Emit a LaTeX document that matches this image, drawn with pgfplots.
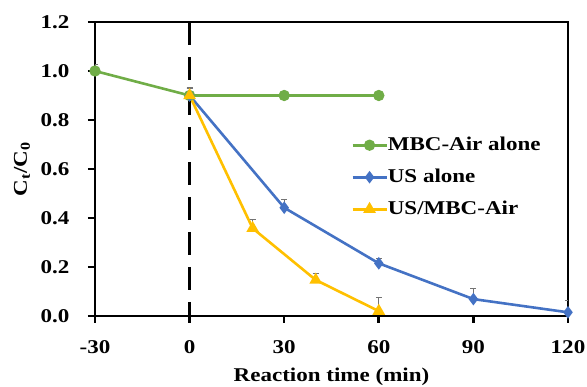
\documentclass[border=0pt]{standalone}
\usepackage{pgfplots}
\pgfplotsset{compat=1.18}
\usepackage{fontspec}
\setmainfont{Liberation Serif}[FakeStretch=1.18]
\definecolor{mgreen}{HTML}{70AD47}
\definecolor{mblue}{HTML}{4472C4}
\definecolor{morange}{HTML}{FFC000}
\pgfplotstableread{
x y e
-30 1.00 0.028
0 0.90 0.035
30 0.90 0.017
60 0.90 0.004
}\green
\pgfplotstableread{
x y e
0 0.90 0.030
30 0.442 0.035
60 0.215 0.020
90 0.069 0.044
120 0.015 0.047
}\blue
\pgfplotstableread{
x y e
0 0.90 0.030
20 0.358 0.037
40 0.147 0.027
60 0.020 0.055
}\orange
\begin{document}
\begin{tikzpicture}
\begin{axis}[
  scale only axis, width=473pt, height=294pt,
  xmin=-30, xmax=120, ymin=0, ymax=1.2,
  xtick={-30,0,30,60,90,120},
  ytick={0,0.2,0.4,0.6,0.8,1.0,1.2},
  yticklabel style={xshift=-15pt, /pgf/number format/fixed, /pgf/number format/fixed zerofill, /pgf/number format/precision=1},
  /pgf/number format/assume math mode=true,
  xtick pos=lower, ytick pos=left,
  tick align=outside, major tick length=7pt,
  axis line style={line width=2.6pt},
  every tick/.style={black, line width=2.6pt},
  tick label style={font=\fontsize{19.5}{23}\selectfont\bfseries},
  xticklabel style={yshift=-14pt},
  xlabel={Reaction time (min)},
  ylabel={C\textsubscript{t}/C\textsubscript{0}},
  every axis x label/.style={at={(rel axis cs:0.5,0)}, yshift=-61pt, anchor=center,
    font=\fontsize{19.5}{23}\selectfont\bfseries},
  every axis y label/.style={at={(rel axis cs:0,0.5)}, xshift=-73pt, rotate=90, anchor=center,
    font=\fontsize{19.5}{23}\selectfont\bfseries},
  legend style={at={(0.535,0.619)}, anchor=north west, draw=none, fill=none,
    font=\fontsize{19.5}{23}\selectfont\bfseries, row sep=14pt,
    nodes={text height=14pt, text depth=4pt, inner sep=0pt}},
  legend cell align=left,
  legend image code/.code={\draw[mark repeat=2, mark phase=2, #1] plot coordinates {(0pt,0pt) (17pt,0pt) (34pt,0pt)};},
  error bars/error bar style={line width=0.8pt, gray!90!black},
  error bars/error mark options={rotate=90, mark size=3pt, line width=0.8pt, gray!90!black},
]
\coordinate (sw) at (rel axis cs:0,0);
\coordinate (ne) at (rel axis cs:1,1);
\addplot[black, line width=3pt, dash pattern=on 23pt off 12pt, forget plot] coordinates {(0,1.2) (0,0)};
\addplot[mgreen, line width=2.6pt, mark=*, mark size=4.3pt, mark options={solid},
  error bars/.cd, y dir=plus, y explicit] table[x=x, y=y, y error=e] {\green};
\addlegendentry{MBC-Air alone}
\addplot[mblue, line width=2.6pt, mark=diamond*, mark size=4.2pt, mark options={solid},
  error bars/.cd, y dir=plus, y explicit] table[x=x, y=y, y error=e] {\blue};
\addlegendentry{US alone}
\addplot[morange, line width=2.6pt, mark=triangle*, mark size=4.8pt, mark options={solid},
  error bars/.cd, y dir=plus, y explicit] table[x=x, y=y, y error=e] {\orange};
\addlegendentry{US/MBC-Air}
\end{axis}
\pgfresetboundingbox
\path ([shift={(-95pt,-71pt)}]sw) rectangle ([shift={(19pt,22pt)}]ne);
\end{tikzpicture}
\end{document}
